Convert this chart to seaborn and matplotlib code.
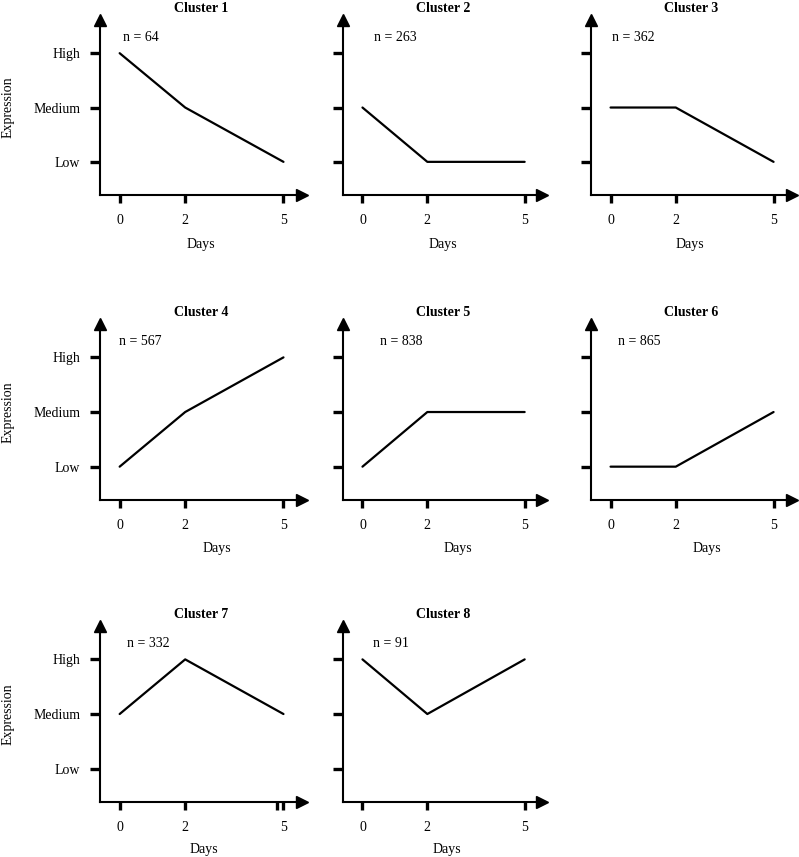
#!/usr/bin/env python3
"""
Expression profiles of the eight gene clusters over the time course (days 0, 2, 5).

Writes:
  out.png
"""

import pandas as pd
import seaborn as sns
import matplotlib.pyplot as plt
from matplotlib.transforms import blended_transform_factory


# Data
CLUSTERS = ["Cluster 1", "Cluster 2", "Cluster 3", "Cluster 4",
            "Cluster 5", "Cluster 6", "Cluster 7", "Cluster 8"]
CLUSTER_SIZES = [64, 263, 362, 567, 838, 865, 332, 91]
DAYS = [0, 2, 5]
LEVEL_LABELS = ["Low", "Medium", "High"]
LEVEL_VALUES = [1, 2, 3]

PROFILES = [
    ["High", "Medium", "Low"],
    ["Medium", "Low", "Low"],
    ["Medium", "Medium", "Low"],
    ["Low", "Medium", "High"],
    ["Low", "Medium", "Medium"],
    ["Low", "Low", "Medium"],
    ["Medium", "High", "Medium"],
    ["High", "Medium", "High"],
]

# Layout (pixels): y-axis x, x-arrow tip, y-arrow tip, x-axis y
W, H = 799, 857
PANELS_PX = [
    (100, 307, 14, 195), (343, 548, 14, 195), (591, 797, 14, 195),
    (100, 307, 318, 500), (343, 548, 318, 500), (591, 797, 318, 500),
    (100, 307, 620, 802), (343, 548, 620, 802),
]
N_TEXT_DX = [0.1, 0.37, 0.03, -0.03, 0.55, 0.22, 0.21, 0.34]
DAYS_LABEL_DX = [-3, -3, -4, 13, 12, 13, 0, 1]
DAYS_LABEL_DY = [43, 43, 43, 42, 42, 42, 41, 41]
ARROW_PX = 5.5  # half the arrowhead marker
STRAY_TICK = {6: 4.79}  # the doubled tick mark next to "5" in cluster 7


def setup_style():
    sns.set_theme(style="ticks")
    plt.rcParams["font.family"] = ["Liberation Serif", "DejaVu Serif"]
    plt.rcParams["font.size"] = 10
    plt.rcParams["text.color"] = "black"
    plt.rcParams["axes.labelcolor"] = "black"


def build_frame():
    level_map = dict(zip(LEVEL_LABELS, LEVEL_VALUES))
    rows = []
    for name, profile in zip(CLUSTERS, PROFILES):
        for day, level in zip(DAYS, profile):
            rows.append({"cluster": name, "day": day, "level": level_map[level]})
    return pd.DataFrame(rows)


def draw_panel(fig, df, i):
    left, tip_r, tip_t, bottom = PANELS_PX[i]
    right = tip_r - ARROW_PX
    top = tip_t + ARROW_PX
    ax = fig.add_axes([left / W, 1 - bottom / H, (right - left) / W, (bottom - top) / H])
    w_px, h_px = right - left, bottom - top

    sub = df[df["cluster"] == CLUSTERS[i]]
    sns.lineplot(data=sub, x="day", y="level", color="black", linewidth=1.6, ax=ax)

    ax.set_xlim(-0.6, 5.55)
    ax.set_ylim(0.39, 3.62)
    ax.set_xticks(DAYS)
    ax.set_yticks(LEVEL_VALUES)
    if i in STRAY_TICK:
        ax.set_xticks([STRAY_TICK[i]], minor=True)
    if i in (0, 3, 6):
        ax.set_yticklabels(LEVEL_LABELS)
        ax.set_ylabel("Expression", fontsize=10)
        ax.yaxis.set_label_coords(-(left - 15) / w_px, 2,
                                  transform=blended_transform_factory(ax.transAxes, ax.transData))
    else:
        ax.set_yticklabels([])
        ax.set_ylabel("")

    ax.set_xlabel("Days", fontsize=10)
    ax.xaxis.set_label_coords(0.5 + (DAYS_LABEL_DX[i] + ARROW_PX / 2) / w_px,
                              -DAYS_LABEL_DY[i] / h_px)

    for side in ("top", "right"):
        ax.spines[side].set_visible(False)
    for side in ("left", "bottom"):
        ax.spines[side].set_linewidth(1.5)
        ax.spines[side].set_color("black")

    ax.tick_params(axis="y", length=7.2, width=2.4, pad=7, labelsize=10, colors="black")
    ax.tick_params(axis="x", length=6, width=2.4, pad=8, labelsize=10, colors="black")
    ax.tick_params(axis="x", which="minor", length=6, width=2.4, colors="black")

    # arrowheads at the axis ends
    ax.plot(1, 0, ">", color="black", markersize=8, transform=ax.transAxes, clip_on=False)
    ax.plot(0, 1, "^", color="black", markersize=8, transform=ax.transAxes, clip_on=False)

    ax.set_title(CLUSTERS[i], fontsize=10, fontweight="bold", pad=5.5)
    ax.text(N_TEXT_DX[i], 3.29, f"n = {CLUSTER_SIZES[i]}", fontsize=10,
            ha="left", va="center")
    ax.set_facecolor("white")


def main():
    setup_style()
    df = build_frame()
    fig = plt.figure(figsize=(W / 100, H / 100), dpi=100)
    fig.patch.set_facecolor("white")
    for i in range(len(CLUSTERS)):
        draw_panel(fig, df, i)
    fig.savefig("out.png", dpi=100)
    plt.close(fig)


if __name__ == "__main__":
    main()
